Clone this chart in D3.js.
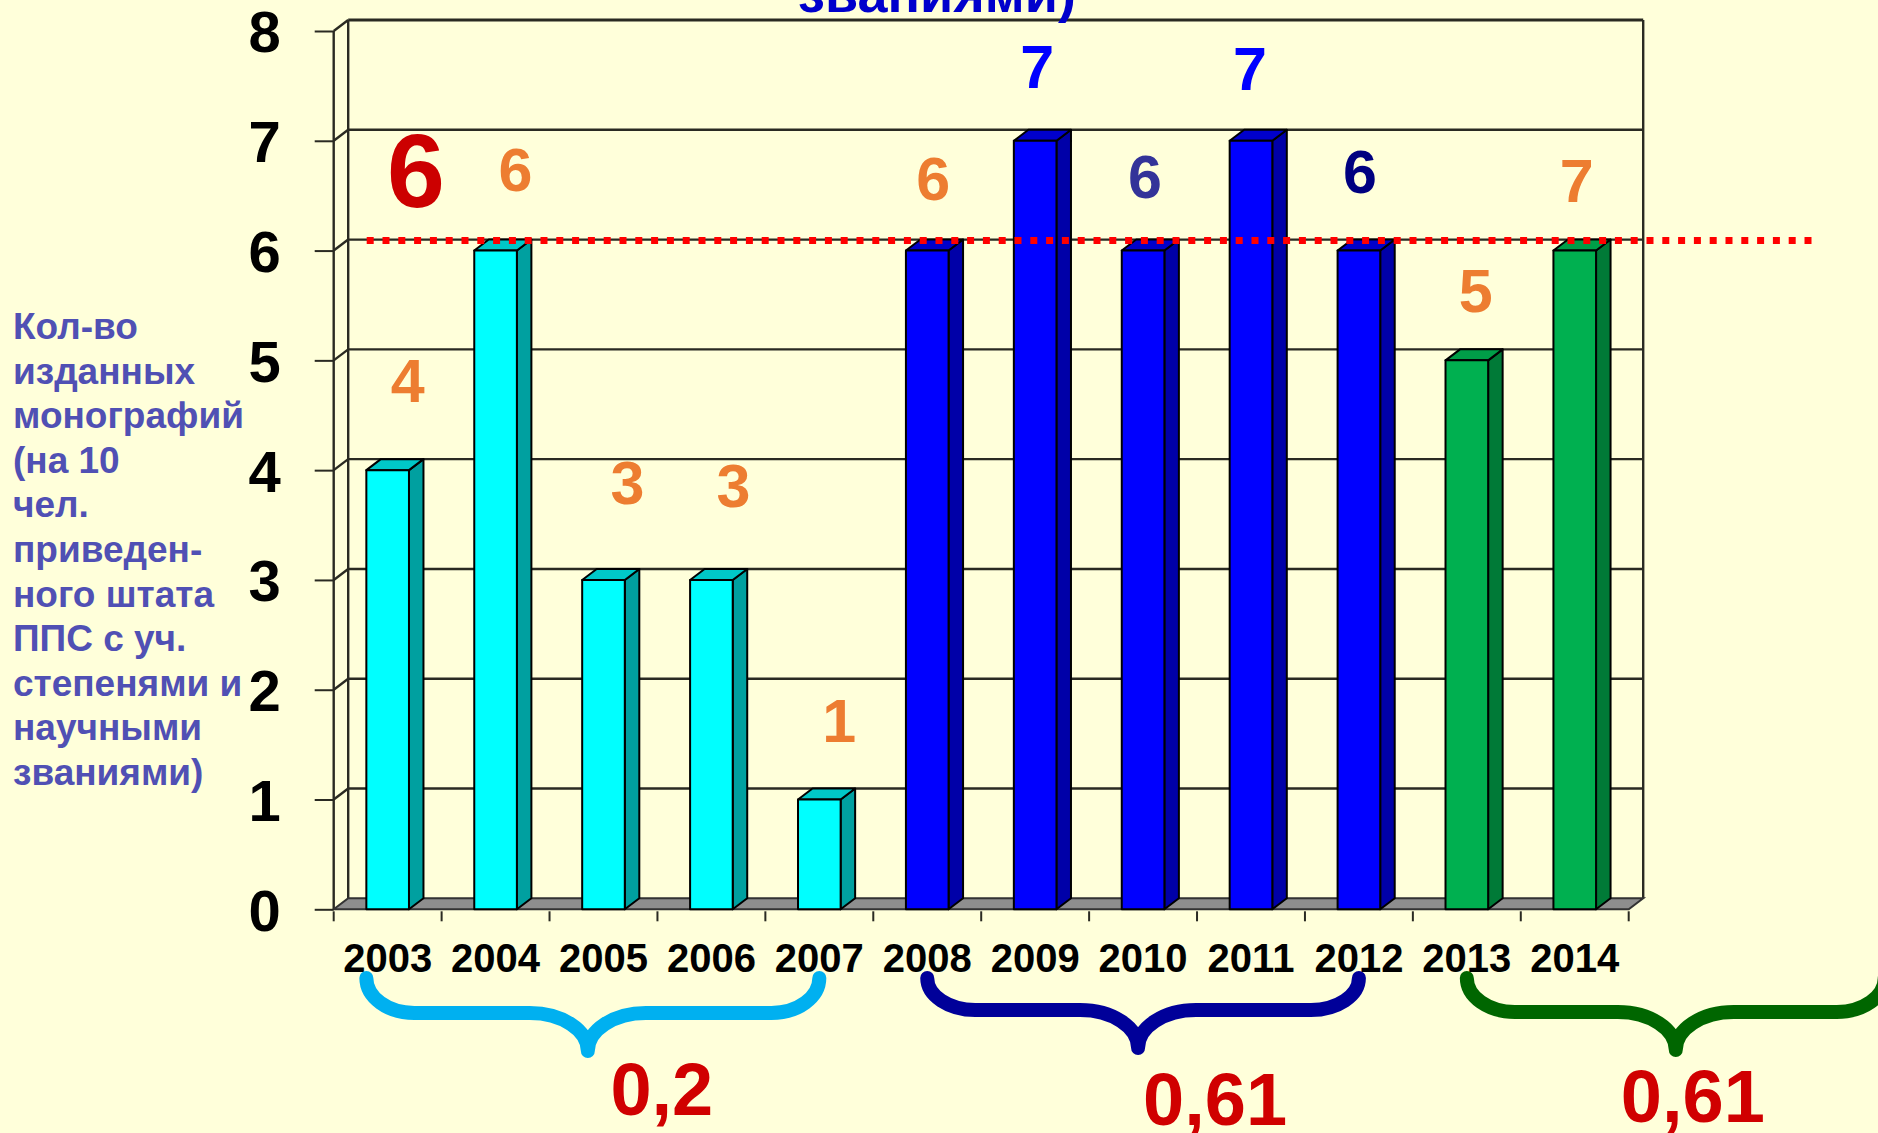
<!DOCTYPE html>
<html>
<head>
<meta charset="utf-8">
<script src="https://cdn.jsdelivr.net/npm/d3@7"></script>
<style>
  body { margin: 0; background: #ffffda; overflow: hidden; }
  svg { display: block; font-family: "Liberation Sans", Arial, sans-serif; font-weight: bold; }
</style>
</head>
<body>
<svg width="1878" height="1133"></svg>
<script>
const svg_width = 1878;
const svg_height = 1133;

// chart values
const years = ["2003", "2004", "2005", "2006", "2007", "2008", "2009", "2010", "2011", "2012", "2013", "2014"];
const values = [4, 6, 3, 3, 1, 6, 7, 6, 7, 6, 5, 6];
const labelTexts = ["4", "6", "3", "3", "1", "6", "7", "6", "7", "6", "5", "7"];
const yTicks = [0, 1, 2, 3, 4, 5, 6, 7, 8];
const normValue = 6;
const normText = "6";

// the three periods under the braces
const groupFirst = ["2003", "2008", "2013"];
const groupLast = ["2007", "2012", "2014"];
const groupRatio = ["0,2", "0,61", "0,61"];

const titleTail = "званиями)";
const yTitleLines = ["Кол-во", "изданных", "монографий", "(на 10", "чел.", "приведен-",
  "ного штата", "ППС с уч.", "степенями и", "научными", "званиями)"];

// styles
const groupFront = ["#00ffff", "#0000ff", "#00b050"];
const groupSide = ["#00a0a0", "#0000a8", "#007a37"];
const groupTop = ["#00c8c8", "#0000cc", "#009e48"];
const braceColors = ["#00b0f0", "#000099", "#006600"];
const orange = "#ed7d31";
const labelColors = [orange, orange, orange, orange, orange, orange, "#0000ff", "#333399", "#0000ff", "#000080", orange, orange];
// hand placed labels in the original, nudged from the bar tops
const labelDx = [20, 20, 24, 22, 20, 6, 2, 2, -1, 1, 9, 2];
const labelDy = [90, 82, 98, 95, 80, 73, 75, 75, 73, 80, 70, 71];

// depth of the fake 3d
const dx = 14.5;
const dy = -11;

var svg = d3.select("svg");

var x = d3.scaleBand().domain(years).range([333.7, 1628.7]);
var y = d3.scaleLinear().domain([0, 8]).range([909.3, 31]);
var bar_w = x.bandwidth() * 0.395;

function center(yr) {
  return x(yr) + x.bandwidth() / 2;
}

function groupOf(i) {
  for (let g = 0; g < groupFirst.length; g++) {
    if (i >= years.indexOf(groupFirst[g]) && i <= years.indexOf(groupLast[g])) return g;
  }
  return 0;
}

function pts(list) {
  return list.map(p => p.join(",")).join(" ");
}

function drawWalls() {
  var x0 = x.range()[0];
  var x1 = x.range()[1];
  var walls = svg.append("g").attr("class", "walls")
    .attr("stroke", "#2a2a22").attr("stroke-width", 2.4).attr("fill", "none");

  // back wall gridlines
  walls.selectAll(".grid").data(yTicks.filter(v => v > 0)).enter().append("line")
    .attr("class", "grid")
    .attr("x1", x0 + dx).attr("x2", x1 + dx)
    .attr("y1", v => y(v) + dy).attr("y2", v => y(v) + dy)
    .attr("stroke-width", v => v == 8 ? 3 : 2.4);

  // left wall diagonals
  walls.selectAll(".diag").data(yTicks.filter(v => v > 0)).enter().append("line")
    .attr("class", "diag")
    .attr("x1", x0).attr("x2", x0 + dx)
    .attr("y1", v => y(v)).attr("y2", v => y(v) + dy);

  walls.append("line").attr("x1", x0).attr("x2", x0).attr("y1", y(0)).attr("y2", y(8));
  walls.append("line").attr("x1", x0 + dx).attr("x2", x0 + dx).attr("y1", y(0) + dy).attr("y2", y(8) + dy);
  walls.append("line").attr("x1", x1 + dx).attr("x2", x1 + dx).attr("y1", y(0) + dy).attr("y2", y(8) + dy);

  // floor
  svg.append("polygon")
    .attr("points", pts([[x0, y(0)], [x0 + dx, y(0) + dy], [x1 + dx, y(0) + dy], [x1, y(0)]]))
    .attr("fill", "#8e8e8e").attr("stroke", "#333").attr("stroke-width", 2);
}

function drawBars() {
  var bars = svg.selectAll(".bar").data(years).enter().append("g").attr("class", "bar")
    .attr("stroke", "#000").attr("stroke-width", 2).attr("stroke-linejoin", "round");

  bars.each(function (yr, i) {
    var g = d3.select(this);
    var grp = groupOf(i);
    var left = center(yr) - bar_w / 2;
    var right = center(yr) + bar_w / 2;
    var top = y(values[i]);
    var bottom = y(0);
    g.append("polygon")
      .attr("points", pts([[right, top], [right + dx, top + dy], [right + dx, bottom + dy], [right, bottom]]))
      .attr("fill", groupSide[grp]);
    g.append("polygon")
      .attr("points", pts([[left, top], [left + dx, top + dy], [right + dx, top + dy], [right, top]]))
      .attr("fill", groupTop[grp]);
    g.append("rect")
      .attr("x", left).attr("y", top).attr("width", bar_w).attr("height", bottom - top)
      .attr("fill", groupFront[grp]);
  });
}

function drawAxes() {
  var x0 = x.range()[0];

  var yAxis = svg.append("g").attr("transform", `translate(${x0},0)`)
    .call(d3.axisLeft(y).tickValues(yTicks).tickSize(19).tickPadding(34));
  yAxis.select(".domain").remove();
  yAxis.selectAll(".tick line").attr("stroke", "#2a2a22").attr("stroke-width", 2);
  yAxis.selectAll(".tick text")
    .attr("font-size", 58).attr("font-family", null).attr("fill", "#000").attr("dy", "0.36em");

  var xAxis = svg.append("g").attr("transform", `translate(0,${y(0)})`)
    .call(d3.axisBottom(x).tickSize(0).tickPadding(34));
  xAxis.select(".domain").remove();
  xAxis.selectAll(".tick text").attr("font-size", 40).attr("font-family", null).attr("fill", "#000");

  // category ticks sit on the band edges
  var edges = years.map(yr => x(yr)).concat([x.range()[1]]);
  svg.selectAll(".xtick").data(edges).enter().append("line")
    .attr("class", "xtick")
    .attr("x1", d => d).attr("x2", d => d)
    .attr("y1", y(0) + 2).attr("y2", y(0) + 12)
    .attr("stroke", "#2a2a22").attr("stroke-width", 2);
}

function drawLabels() {
  svg.selectAll(".val").data(years).enter().append("text")
    .attr("class", "val")
    .attr("x", (yr, i) => center(yr) + labelDx[i])
    .attr("y", (yr, i) => y(values[i]) - labelDy[i] + 22)
    .attr("text-anchor", "middle")
    .attr("font-size", 61)
    .attr("fill", (yr, i) => labelColors[i])
    .text((yr, i) => labelTexts[i]);

  // norm line
  svg.append("line")
    .attr("x1", x.range()[0] + 33).attr("x2", svg_width - 64)
    .attr("y1", y(normValue) + dy + 1).attr("y2", y(normValue) + dy + 1)
    .attr("stroke", "#ff0000").attr("stroke-width", 7).attr("stroke-dasharray", "7 8.8");

  svg.append("text")
    .attr("x", 416).attr("y", 207)
    .attr("text-anchor", "middle").attr("font-size", 104).attr("fill", "#cc0000")
    .text(normText);

  svg.append("text")
    .attr("x", 937).attr("y", 12)
    .attr("text-anchor", "middle").attr("font-size", 54).attr("fill", "#0000cc")
    .text(titleTail);

  svg.append("text")
    .attr("font-size", 37).attr("fill", "#5050b4")
    .selectAll("tspan").data(yTitleLines).enter().append("tspan")
    .attr("x", 13).attr("y", (d, i) => 339 + i * 44.6)
    .text(d => d);
}

// curly brace under each period, top ends at x0/x1, tip at xm
// the corners are quarter ellipses, k is the usual bezier circle constant
function bracePath(x0, x1, xm, y_top, y_mid, y_tip) {
  const k = 0.552;
  const r_end = 48;
  const r_mid = 58;
  const h_end = y_mid - y_top;
  const h_mid = y_tip - y_mid;
  let d = "";
  [[x0, 1], [x1, -1]].forEach(function (side) {
    const xe = side[0];
    const s = side[1];
    d += `M ${xe} ${y_top} C ${xe} ${y_top + k * h_end} ${xe + s * (r_end - k * r_end)} ${y_mid} ${xe + s * r_end} ${y_mid}`;
    d += ` L ${xm - s * r_mid} ${y_mid}`;
    d += ` C ${xm - s * (r_mid - k * r_mid)} ${y_mid} ${xm} ${y_tip - k * h_mid} ${xm} ${y_tip} `;
  });
  return d;
}

function drawBraces() {
  const padLeft = [-bar_w / 2, 0, 0];
  const padRight = [0, 0, 310];
  const yMid = [1013, 1010, 1012];
  const ratioDx = [74, 77, 17];
  const ratioY = [1115, 1125, 1122];

  groupFirst.forEach(function (first, g) {
    var x0 = center(first) + padLeft[g];
    var x1 = center(groupLast[g]) + padRight[g];
    var xm = (x0 + x1) / 2 - (g == 2 ? 0 : 5);
    svg.append("path")
      .attr("d", bracePath(x0, x1, xm, 978, yMid[g], yMid[g] + 38))
      .attr("fill", "none").attr("stroke", braceColors[g])
      .attr("stroke-width", 14).attr("stroke-linecap", "round").attr("stroke-linejoin", "round");

    svg.append("text")
      .attr("x", xm + ratioDx[g]).attr("y", ratioY[g])
      .attr("text-anchor", "middle").attr("font-size", 74).attr("fill", "#d00000")
      .text(groupRatio[g]);
  });
}

drawWalls();
drawBars();
drawAxes();
drawLabels();
drawBraces();
</script>
</body>
</html>
